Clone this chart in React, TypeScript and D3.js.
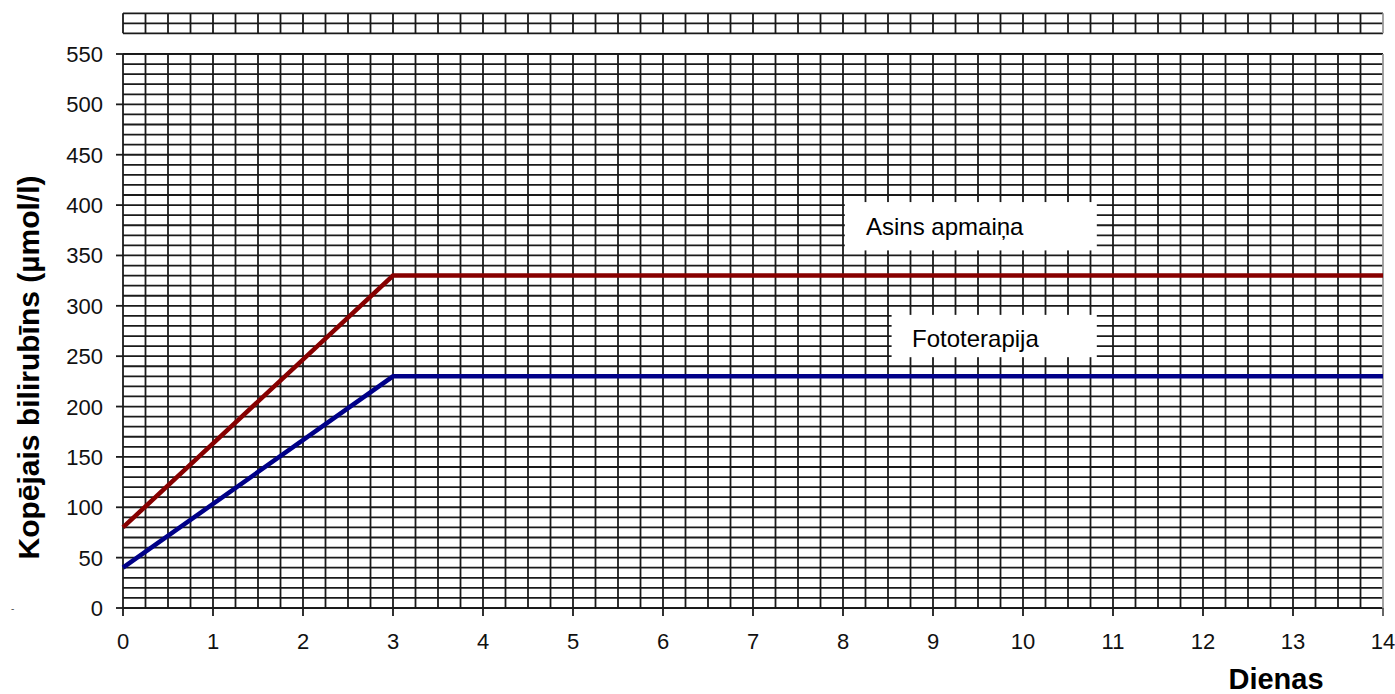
import React from "react";
import * as d3 from "d3";

const dayTicks = [0, 1, 2, 3, 4, 5, 6, 7, 8, 9, 10, 11, 12, 13, 14];
const valueTicks = [0, 50, 100, 150, 200, 250, 300, 350, 400, 450, 500, 550];
const exchangeDays = [0, 3, 14];
const exchangeValues = [80, 330, 330];
const phototherapyDays = [0, 3, 14];
const phototherapyValues = [40, 230, 230];
const seriesNames = ["Asins apmaiņa", "Fototerapija"];
const xTitle = "Dienas";
const yTitle = "Kopējais bilirubīns (µmol/l)";

const W = 1395;
const H = 694;
const FONT = "'Liberation Sans', Arial, Helvetica, sans-serif";

export default function App() {
  const x = d3.scaleLinear().domain([0, 14]).range([123, 1383]);
  const y = d3.scaleLinear().domain([0, 550]).range([608, 54]);

  const vGrid = d3.range(0, 14 * 4 + 1).map((i) => i / 4);
  const hGrid = d3.range(0, 56).map((i) => i * 10);

  const line = d3
    .line<[number, number]>()
    .x((d) => x(d[0]))
    .y((d) => y(d[1]));

  const exch = exchangeDays.map((d, i) => [d, exchangeValues[i]] as [number, number]);
  const photo = phototherapyDays.map((d, i) => [d, phototherapyValues[i]] as [number, number]);

  const stripTop = 13.3;
  const stripRow = 10;
  const gridColor = "#1a1a1a";
  const gw = 1.8;

  // annotation boxes in data coordinates
  const box1 = { x0: 8.02, x1: 10.82, v0: 403, v1: 355 };
  const box2 = { x0: 8.54, x1: 10.82, v0: 291, v1: 249 };

  return (
    <svg
      width={W}
      height={H}
      style={{ position: "absolute", left: 0, top: 0, display: "block", background: "#fff" }}
    >
      <rect x={0} y={0} width={W} height={H} fill="#fff" />
      {/* top strip */}
      <g>
        {[0, 1, 2].map((r) => (
          <line
            key={"sh" + r}
            x1={x(0)}
            x2={x(14)}
            y1={stripTop + r * stripRow}
            y2={stripTop + r * stripRow}
            stroke={gridColor}
            strokeWidth={gw}
          />
        ))}
        {vGrid.map((d) => (
          <line
            key={"sv" + d}
            x1={x(d)}
            x2={x(d)}
            y1={stripTop}
            y2={stripTop + 2 * stripRow}
            stroke={d === 14 ? "#9a9a9a" : gridColor}
            strokeWidth={gw}
          />
        ))}
      </g>
      {/* main grid */}
      <g>
        {hGrid.map((v) => (
          <line
            key={"h" + v}
            x1={x(0)}
            x2={x(14)}
            y1={y(v)}
            y2={y(v)}
            stroke={gridColor}
            strokeWidth={gw}
          />
        ))}
        {vGrid.map((d) => (
          <line
            key={"v" + d}
            x1={x(d)}
            x2={x(d)}
            y1={y(0)}
            y2={y(550)}
            stroke={d === 14 ? "#9a9a9a" : gridColor}
            strokeWidth={gw}
          />
        ))}
      </g>
      {/* y ticks */}
      <g>
        {valueTicks.map((v) => (
          <g key={"yt" + v}>
            <line x1={x(0) - 7} x2={x(0)} y1={y(v)} y2={y(v)} stroke={gridColor} strokeWidth={gw} />
            <text
              x={103}
              y={y(v) + 8}
              textAnchor="end"
              fontFamily={FONT}
              fontSize={22}
              fill="#111"
            >
              {v}
            </text>
          </g>
        ))}
      </g>
      {/* x ticks */}
      <g>
        {dayTicks.map((d) => (
          <g key={"xt" + d}>
            <line x1={x(d)} x2={x(d)} y1={y(0)} y2={y(0) + 8} stroke={d === 14 ? "#555" : gridColor} strokeWidth={gw} />
            <text
              x={x(d)}
              y={648.5}
              textAnchor="middle"
              fontFamily={FONT}
              fontSize={22}
              fill="#111"
            >
              {d}
            </text>
          </g>
        ))}
      </g>
      {/* annotation boxes */}
      <rect
        x={x(box1.x0)}
        y={y(box1.v0)}
        width={x(box1.x1) - x(box1.x0)}
        height={y(box1.v1) - y(box1.v0)}
        fill="#fff"
      />
      <text x={866} y={235} fontFamily={FONT} fontSize={24} fill="#000">
        {seriesNames[0]}
      </text>
      <rect
        x={x(box2.x0)}
        y={y(box2.v0)}
        width={x(box2.x1) - x(box2.x0)}
        height={y(box2.v1) - y(box2.v0)}
        fill="#fff"
      />
      <text x={912} y={347} fontFamily={FONT} fontSize={24} fill="#000">
        {seriesNames[1]}
      </text>
      {/* series */}
      <path d={line(exch) || ""} fill="none" stroke="#870000" strokeWidth={4.5} strokeLinejoin="miter" />
      <path d={line(photo) || ""} fill="none" stroke="#000088" strokeWidth={4.5} strokeLinejoin="miter" />
      {/* titles */}
      <text
        x={1276}
        y={689}
        textAnchor="middle"
        fontFamily={FONT}
        fontSize={29}
        fontWeight="bold"
        fill="#000"
      >
        {xTitle}
      </text>
      <text
        transform={`translate(39,367.5) rotate(-90)`}
        textAnchor="middle"
        fontFamily={FONT}
        fontSize={30}
        fontWeight="bold"
        fill="#000"
      >
        {yTitle}
      </text>
      <text x={11} y={612} fontFamily={FONT} fontSize={10} fill="#555">
        -
      </text>
    </svg>
  );
}
